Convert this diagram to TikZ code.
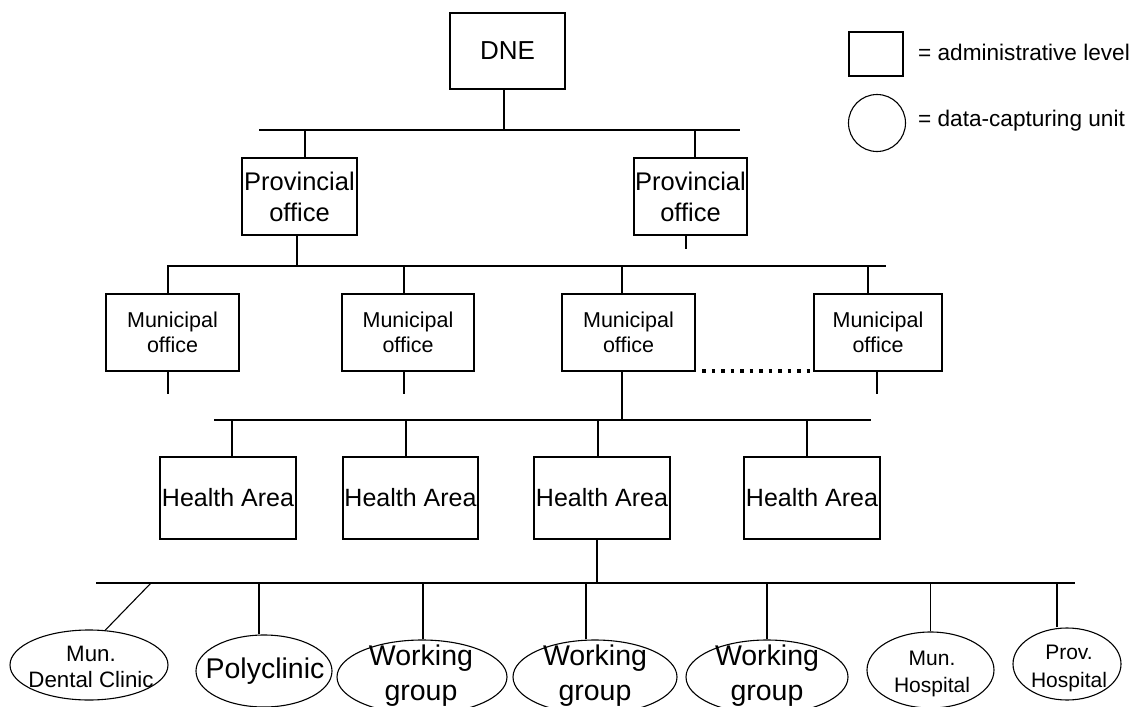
\documentclass[tikz,border=0pt]{standalone}
\usepackage{fontspec}
\setmainfont{Liberation Sans}
\usetikzlibrary{shapes.geometric}

% type sizes used in the chart
\newcommand{\szBig}{\fontsize{28.5}{35}\selectfont}
\newcommand{\szTop}{\fontsize{26}{31}\selectfont}
\newcommand{\szBox}{\fontsize{25.5}{31}\selectfont}
\newcommand{\szHA}{\fontsize{25}{31}\selectfont}
\newcommand{\szMun}{\fontsize{21.5}{25}\selectfont}
\newcommand{\szUnit}{\fontsize{22.3}{26}\selectfont}
\newcommand{\szHosp}{\fontsize{21}{27.5}\selectfont}
\newcommand{\szKey}{\fontsize{22.6}{26}\selectfont}

\tikzset{
  admin/.style={draw, rectangle, line width=1.1pt, inner sep=0pt, align=center},
  unit/.style={draw, ellipse, line width=1.1pt, inner sep=0pt},
  utext/.style={align=center, inner sep=0pt},
  conn/.style={line width=1.1pt},
  etc/.style={line width=3.6pt, dash pattern=on 3.6pt off 5.9pt},
}

\begin{document}
\begin{tikzpicture}[x=1pt, y=-1pt]
\useasboundingbox (0,0) rectangle (1133,707);

% ---- legend ----
\node[admin, minimum width=54pt, minimum height=44pt] (keybox) at (876,54) {};
\node[anchor=west, inner sep=0pt, font=\szKey] (keyboxt) at (918,52) {= administrative level};
\node[unit, circle, minimum size=57pt] (keycirc) at (877,123) {};
\node[anchor=west, inner sep=0pt, font=\szKey] (keycirct) at (918,121) {= data-capturing unit};

% ---- national level ----
\node[admin, minimum width=115pt, minimum height=76pt, font=\szTop] (dne) at (507.5,51) {DNE};

% ---- provinces ----
\node[admin, minimum width=115pt, minimum height=77pt, font=\szBox] (p1) at (299.5,196.5) {Provincial\\office};
\node[admin, minimum width=113pt, minimum height=77pt, font=\szBox] (p2) at (690.5,196.5) {Provincial\\office};

% ---- municipalities ----
\node[admin, minimum width=133pt, minimum height=77pt, font=\szMun] (m1) at (172.5,332.5) {Municipal\\office};
\node[admin, minimum width=132pt, minimum height=77pt, font=\szMun] (m2) at (408,332.5) {Municipal\\office};
\node[admin, minimum width=133pt, minimum height=77pt, font=\szMun] (m3) at (628.5,332.5) {Municipal\\office};
\node[admin, minimum width=128pt, minimum height=77pt, font=\szMun] (m4) at (878,332.5) {Municipal\\office};

% ---- health areas ----
\node[admin, minimum width=136pt, minimum height=82pt, font=\szHA] (h1) at (228,498) {Health Area};
\node[admin, minimum width=135pt, minimum height=82pt, font=\szHA] (h2) at (410.5,498) {Health Area};
\node[admin, minimum width=136pt, minimum height=82pt, font=\szHA] (h3) at (602,498) {Health Area};
\node[admin, minimum width=136pt, minimum height=82pt, font=\szHA] (h4) at (812,498) {Health Area};

% ---- data-capturing units ----
\node[unit, minimum width=158pt, minimum height=70pt] (e1) at (89,665) {};
\node[unit, minimum width=136pt, minimum height=72pt] (e2) at (264,671) {};
\node[unit, minimum width=170pt, minimum height=74pt] (e3) at (422,677) {};
\node[unit, minimum width=164pt, minimum height=74pt] (e4) at (595,677) {};
\node[unit, minimum width=162pt, minimum height=74pt] (e5) at (767,677) {};
\node[unit, minimum width=127pt, minimum height=76pt] (e6) at (930.5,670) {};
\node[unit, minimum width=108pt, minimum height=72pt] (e7) at (1067,664) {};

\node[utext, font=\szUnit] (e1t) at (91,667) {Mun.\\Dental Clinic};
\node[utext, font=\szBig] (e2t) at (265,671) {Polyclinic};
\node[utext, font=\szBig] (e3t) at (421,676) {Working\\group};
\node[utext, font=\szBig] (e4t) at (595,676) {Working\\group};
\node[utext, font=\szBig] (e5t) at (767,676) {Working\\group};
\node[utext, font=\szHosp] (e6t) at (932,674) {Mun.\\Hospital};
\node[utext, font=\szHosp] (e7t) at (1069,668.5) {Prov.\\Hospital};

% ---- distribution bars ----
\coordinate (b1l) at (259,130);  \coordinate (b1r) at (740,130);
\coordinate (b2l) at (168,266);  \coordinate (b2r) at (886,266);
\coordinate (b3l) at (214,420);  \coordinate (b3r) at (871,420);
\coordinate (b4l) at (96,583);   \coordinate (b4r) at (1075,583);
\coordinate (b4d) at (151,583);
\draw[conn] (b1l) -- (b1r);
\draw[conn] (b2l) -- (b2r);
\draw[conn] (b3l) -- (b3r);
\draw[conn] (b4l) -- (b4r);

% DNE to provinces
\draw[conn] ([xshift=-3.5pt]dne.south) -- ++(0,41);
\draw[conn] ([xshift=5.5pt]p1.north) -- ++(0,-28);
\draw[conn] ([xshift=4.5pt]p2.north) -- ++(0,-28);

% provinces to municipalities
\draw[conn] ([xshift=-2.5pt]p1.south) -- ++(0,31);
\draw[conn] ([xshift=-4.5pt]p2.south) -- ++(0,13);
\draw[conn] ([xshift=-4.5pt]m1.north) -- ++(0,-28);
\draw[conn] ([xshift=-4pt]m2.north) -- ++(0,-28);
\draw[conn] ([xshift=-6.5pt]m3.north) -- ++(0,-28);
\draw[conn] ([xshift=-10pt]m4.north) -- ++(0,-28);

% municipalities to health areas
\draw[conn] ([xshift=-4.5pt]m1.south) -- ++(0,22);
\draw[conn] ([xshift=-4pt]m2.south) -- ++(0,22);
\draw[conn] ([xshift=-6.5pt]m3.south) -- ++(0,48.5);
\draw[conn] ([xshift=-1pt]m4.south) -- ++(0,22);
\draw[etc] ([xshift=6.5pt,yshift=0.5pt]m3.south east) -- ([xshift=-3pt,yshift=0.5pt]m4.south west);
\draw[conn] ([xshift=4pt]h1.north) -- ++(0,-37);
\draw[conn] ([xshift=-4.5pt]h2.north) -- ++(0,-37);
\draw[conn] ([xshift=-4pt]h3.north) -- ++(0,-37);
\draw[conn] ([xshift=-5pt]h4.north) -- ++(0,-37);

% health area to data-capturing units
\draw[conn] ([xshift=-5pt]h3.south) -- ++(0,44);
\draw[conn] (b4d) -- (e1.65);
\draw[conn] ([xshift=-5pt]e2.north) -- ++(0,-52);
\draw[conn] ([xshift=1pt]e3.north) -- ++(0,-57);
\draw[conn] ([xshift=-9pt]e4.north) -- ++(0,-56.5);
\draw[conn] (e5.north) -- ++(0,-57);
\draw[conn] (e6.north) -- ++(0,-49);
\draw[conn] ([xshift=-10pt]e7.north) -- ++(0,-44.5);
\end{tikzpicture}
\end{document}
